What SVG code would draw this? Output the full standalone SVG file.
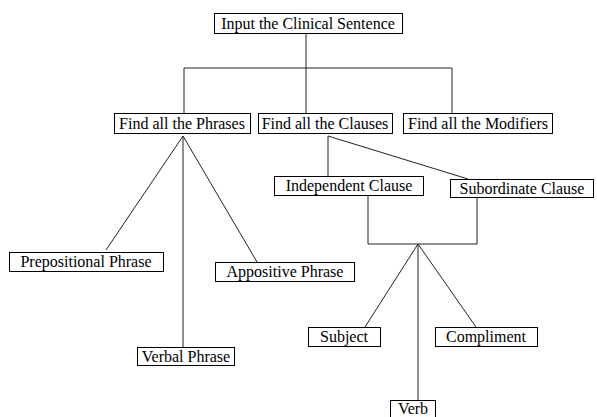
<svg xmlns="http://www.w3.org/2000/svg" width="597" height="417" viewBox="0 0 597 417">
<style>
.box{fill:#fff;stroke:#000;stroke-width:1}
.t{font-family:"Liberation Serif","Times New Roman",serif;font-size:16px;fill:#000;text-anchor:middle}
.c{fill:none;stroke:#222;stroke-width:1}
</style>
<rect width="597" height="417" fill="#fff"/>
<g id="connectors">
<path class="c" d="M306 33V113M184 68H452M184 68V113M452 68V113"/>
<path class="c" d="M183 136L106 250M183 136V347M183 136L257 262"/>
<path class="c" d="M328 136V176M328 136L468 179"/>
<path class="c" d="M368 195V244H477V197"/>
<path class="c" d="M418 244L365 327M418 244V400M418 244L476 327"/>
</g>
<g id="input"><rect class="box" x="214.5" y="13.5" width="188" height="20"/><text class="t" x="308" y="29">Input the Clinical Sentence</text></g>
<g id="phrases"><rect class="box" x="114.5" y="113.5" width="136" height="20"/><text class="t" x="182" y="129">Find all the Phrases</text></g>
<g id="clauses"><rect class="box" x="258.5" y="113.5" width="134" height="20"/><text class="t" x="325" y="129">Find all the Clauses</text></g>
<g id="modifiers"><rect class="box" x="403.5" y="113.5" width="149" height="20"/><text class="t" x="478" y="129">Find all the Modifiers</text></g>
<g id="prepositional"><rect class="box" x="9.5" y="252.5" width="154" height="19"/><text class="t" x="86" y="267">Prepositional Phrase</text></g>
<g id="verbal"><rect class="box" x="137.5" y="347.5" width="97" height="18"/><text class="t" x="186" y="362">Verbal Phrase</text></g>
<g id="appositive"><rect class="box" x="215.5" y="262.5" width="139" height="19"/><text class="t" x="285" y="277">Appositive Phrase</text></g>
<g id="independent"><rect class="box" x="274.5" y="176.5" width="149" height="19"/><text class="t" x="349" y="191">Independent Clause</text></g>
<g id="subordinate"><rect class="box" x="450.5" y="179.5" width="143" height="18"/><text class="t" x="522" y="194">Subordinate Clause</text></g>
<g id="subject"><rect class="box" x="308.5" y="327.5" width="72" height="19"/><text class="t" x="344" y="342">Subject</text></g>
<g id="compliment"><rect class="box" x="435.5" y="327.5" width="102" height="19"/><text class="t" x="486" y="342">Compliment</text></g>
<g id="verb"><rect class="box" x="390.5" y="400.5" width="45" height="17"/><text class="t" x="413" y="414">Verb</text></g>
</svg>
